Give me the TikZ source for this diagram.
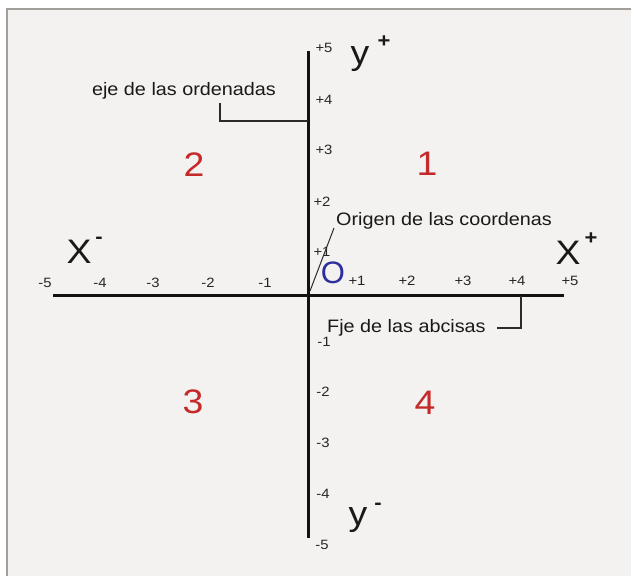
\documentclass[tikz,border=0pt]{standalone}
\usepackage{fontspec}
\setmainfont{Liberation Sans}[FakeStretch=1.1]
\newfontfamily\plainsans{Liberation Sans}
\definecolor{bgpaper}{HTML}{F4F2F0}
\definecolor{framegray}{HTML}{A29E9A}
\definecolor{quadred}{HTML}{C42A2A}
\definecolor{origblue}{HTML}{2E2E9C}
\definecolor{leadergray}{HTML}{2A2A2A}
\tikzset{
  axisline/.style={line width=3pt, draw=black!93},
  leader/.style={line width=1.3pt, draw=leadergray},
  ticklbl/.style={inner sep=0pt, font=\fontsize{13.5}{13.5}\selectfont, text=black!85},
  quadnum/.style={inner sep=0pt, font=\fontsize{34}{34}\selectfont, text=quadred},
  biglbl/.style={inner sep=0pt, font=\fontsize{34}{34}\selectfont, text=black!90},
  suplbl/.style={inner sep=0pt, font=\fontsize{20}{20}\selectfont\bfseries, text=black!90},
  notelbl/.style={inner sep=0pt, font=\fontsize{18}{18}\selectfont, text=black!90},
}
\begin{document}
\begin{tikzpicture}[x=1pt,y=-1pt]
\useasboundingbox (0,0) rectangle (631,576);
\fill[white] (0,0) rectangle (631,576);
\fill[bgpaper] (7,9) rectangle (631,576);
\draw[framegray, line width=1.5pt] (7,576) -- (7,9) -- (631,9);

% axes
\coordinate (ytop) at (308,51);
\coordinate (ybot) at (308,538);
\coordinate (xleft) at (53,295);
\coordinate (xright) at (564,295);
\draw[axisline] (ytop) -- (ybot);
\draw[axisline] (xleft) -- (xright);

% x tick labels
\node[ticklbl] (xm5) at (45,283) {-5};
\node[ticklbl] (xm4) at (100,283) {-4};
\node[ticklbl] (xm3) at (153,283) {-3};
\node[ticklbl] (xm2) at (208,283) {-2};
\node[ticklbl] (xm1) at (265,283) {-1};
\node[ticklbl] (xp1) at (357,281) {+1};
\node[ticklbl] (xp2) at (407,281) {+2};
\node[ticklbl] (xp3) at (463,281) {+3};
\node[ticklbl] (xp4) at (517,281) {+4};
\node[ticklbl] (xp5) at (570,281) {+5};

% y tick labels
\node[ticklbl] (yp5) at (324,48) {+5};
\node[ticklbl] (yp4) at (324,100) {+4};
\node[ticklbl] (yp3) at (324,150) {+3};
\node[ticklbl] (yp2) at (322,202) {+2};
\node[ticklbl] (yp1) at (322,252) {+1};
\node[ticklbl] (ym1) at (324,342) {-1};
\node[ticklbl] (ym2) at (323,392) {-2};
\node[ticklbl] (ym3) at (323,443) {-3};
\node[ticklbl] (ym4) at (323,494) {-4};
\node[ticklbl] (ym5) at (322,545) {-5};

% axis names
\node[biglbl] (yplus) at (360,59) {y};
\node[suplbl] (yplussup) at (384,42) {+};
\node[biglbl] (yminus) at (358,520) {y};
\node[suplbl] (yminussup) at (378,506) {-};
\node[biglbl] (xminus) at (79,252) {X};
\node[suplbl] (xminussup) at (99,240) {-};
\node[biglbl] (xplus) at (568,253) {X};
\node[suplbl] (xplussup) at (591,239) {+};

% quadrants
\node[quadnum] (q1) at (427,164) {1};
\node[quadnum] (q2) at (194,165) {2};
\node[quadnum] (q3) at (193,402) {3};
\node[quadnum] (q4) at (425,403) {4};

% origin
\node[inner sep=0pt, font=\fontsize{31}{31}\selectfont\plainsans, text=origblue,
      draw=origblue, draw opacity=0] (O) at (333,273) {O};

% notes
\node[notelbl] (ordenadas) at (184,91) {eje de las ordenadas};
\coordinate (ordA) at (220,103);
\coordinate (ordB) at (220,121);
\coordinate (ordC) at (308,121);
\draw[leader] (ordA) -- (ordB) -- (ordC);

\node[notelbl, anchor=base west] (origen) at (336,225) {Origen de las coordenas};
\coordinate (origA) at (334,228);
\coordinate (origB) at (310,291);
\draw[leader, line width=1pt] (origA) -- (origB);

\node[notelbl, anchor=base west] (abcisas) at (327,332) {Fje de las abcisas};
\coordinate (absA) at (497,328);
\coordinate (absB) at (521,328);
\coordinate (absC) at (521,296);
\draw[leader] (absA) -- (absB) -- (absC);
\end{tikzpicture}
\end{document}
